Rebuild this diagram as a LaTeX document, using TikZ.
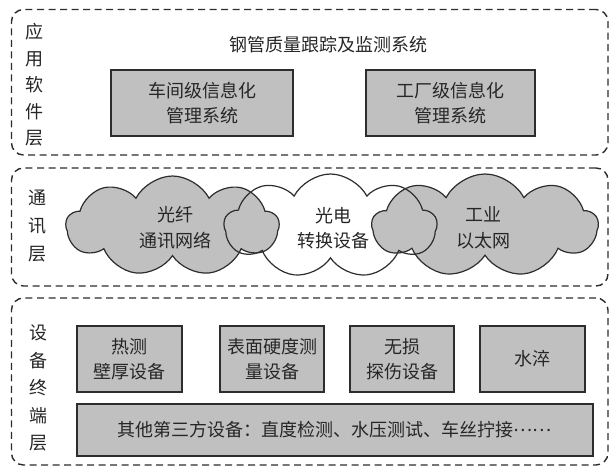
\documentclass[tikz,border=0pt]{standalone}
\usepackage{fontspec}
\setmainfont{Noto Sans CJK SC}
\usetikzlibrary{shapes.symbols}
\definecolor{boxgray}{RGB}{192,192,192}
\definecolor{edge}{RGB}{45,45,45}
\begin{document}
\begin{tikzpicture}[x=1pt,y=-1pt,
  txt/.style={font=\fontsize{18}{25.5}\selectfont, align=center, text=black!85},
  layer/.style={draw=edge, line width=1.4pt, dash pattern=on 7pt off 4.5pt, rounded corners=12pt, inner sep=0pt},
  gbox/.style={draw=edge, fill=boxgray, line width=1.2pt, inner sep=0pt, txt},
  vlab/.style={font=\fontsize{18}{27}\selectfont, align=center, text=black!85, inner sep=0pt},
  cloudbase/.style={cloud, cloud puffs=9, cloud puff arc=125, inner sep=0pt},
  cfill/.style={cloudbase, fill=#1},
  cline/.style={cloudbase, draw=edge, line width=1.2pt}
]
\useasboundingbox (0,0) rectangle (611,468);

% layers
\node[layer, minimum width=596.5pt, minimum height=145.5pt] (app) at (309.75,82.25) {};
\node[layer, minimum width=596.5pt, minimum height=118pt] (com) at (309.75,227) {};
\node[layer, minimum width=596.5pt, minimum height=167pt] (dev) at (309.75,381.5) {};

% layer labels
\node[vlab, font=\fontsize{18}{26.5}\selectfont] (lapp) at (34,85) {应\\用\\软\\件\\层};
\node[vlab, font=\fontsize{18}{28}\selectfont] (lcom) at (37,226) {通\\讯\\层};
\node[vlab, font=\fontsize{18}{27.5}\selectfont] (ldev) at (38,388) {设\\备\\终\\端\\层};

% application layer
\node[txt] (title) at (328,45) {钢管质量跟踪及监测系统};
\node[gbox, minimum width=182pt, minimum height=66pt] (ws) at (202,103) {车间级信息化\\管理系统};
\node[gbox, minimum width=169pt, minimum height=66pt] (fs) at (450.5,103) {工厂级信息化\\管理系统};

% communication layer clouds: fills first, then outlines
\node[cfill=white, minimum width=213pt, minimum height=104pt, shape border rotate=10] (c2f) at (330.5,226) {};
\node[cfill=boxgray, minimum width=213pt, minimum height=100pt] (c1f) at (172.5,226) {};
\node[cfill=boxgray, minimum width=226pt, minimum height=103pt, shape border rotate=20] (c3f) at (485,225.5) {};
\node[cline, minimum width=213pt, minimum height=100pt] (c1) at (172.5,226) {};
\node[cline, minimum width=213pt, minimum height=104pt, shape border rotate=10] (c2) at (330.5,226) {};
\node[cline, minimum width=226pt, minimum height=103pt, shape border rotate=20] (c3) at (485,225.5) {};
\node[txt] (t1) at (175,228) {光纤\\通讯网络};
\node[txt] (t2) at (333,228) {光电\\转换设备};
\node[txt] (t3) at (483,228) {工业\\以太网};

% device layer
\node[gbox, minimum width=105pt, minimum height=66pt] (d1) at (129.5,359) {热测\\壁厚设备};
\node[gbox, minimum width=104pt, minimum height=66pt] (d2) at (272,359) {表面硬度测\\量设备};
\node[gbox, minimum width=104pt, minimum height=66pt] (d3) at (402,359) {无损\\探伤设备};
\node[gbox, minimum width=105pt, minimum height=66pt] (d4) at (532.5,359) {水淬};
\node[gbox, minimum width=516pt, minimum height=52pt] (d5) at (335,430) {其他第三方设备：直度检测、水压测试、车丝拧接\raisebox{0.3em}{……}};
\end{tikzpicture}
\end{document}
